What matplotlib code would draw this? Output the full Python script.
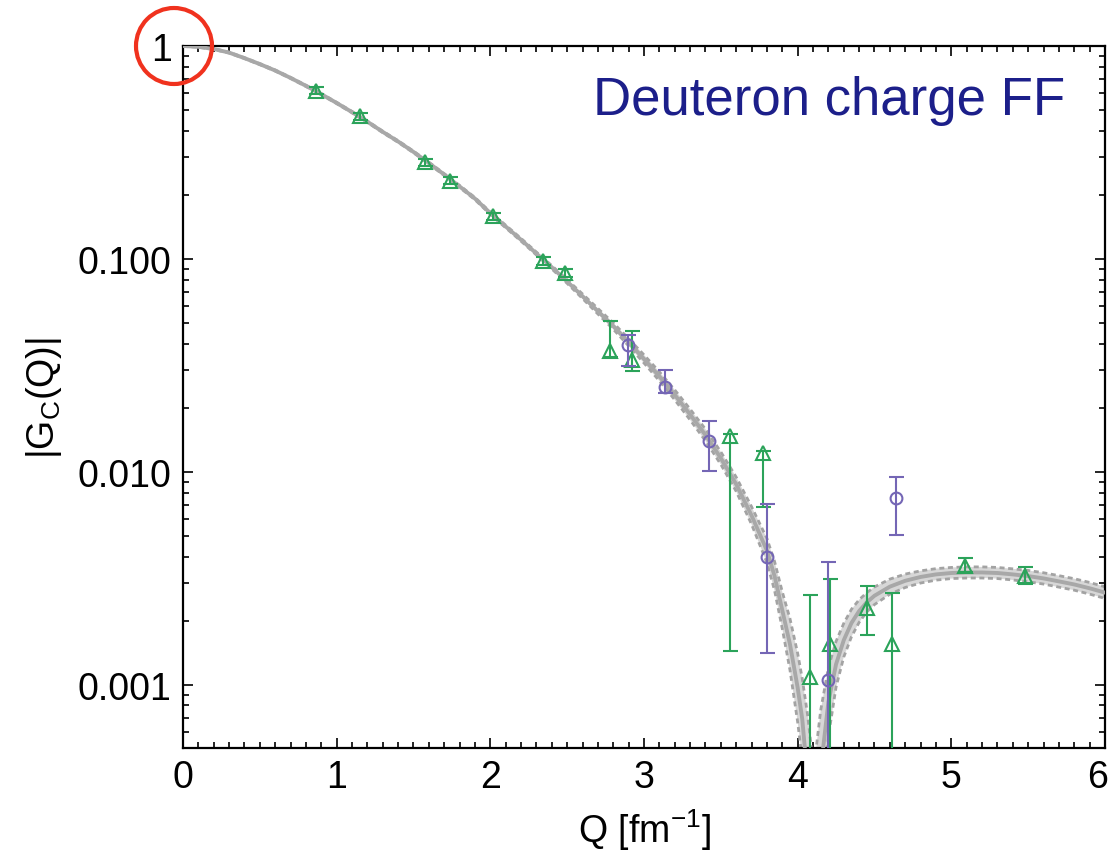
import matplotlib
matplotlib.use("Agg")
import matplotlib.pyplot as plt
from matplotlib.ticker import MultipleLocator, LogLocator, FixedLocator, FixedFormatter, NullFormatter
from matplotlib.patches import Ellipse
from matplotlib.transforms import ScaledTranslation
import numpy as np

plt.rcParams['font.family'] = ['Liberation Sans', 'DejaVu Sans']
plt.rcParams['mathtext.default'] = 'regular'

# theory curve |G_C(Q)| (sign change near Q = 4.1 fm^-1)
q_th = [0.0, 0.1, 0.2, 0.3, 0.4, 0.5, 0.6, 0.7, 0.8, 0.9, 1.0, 1.1, 1.2, 1.3, 1.4, 1.5,
        1.6, 1.7, 1.8, 1.9, 2.0, 2.1, 2.2, 2.3, 2.4, 2.5, 2.6, 2.7, 2.8, 2.9, 3.0, 3.1,
        3.2, 3.3, 3.4, 3.5, 3.6, 3.7, 3.8, 3.85, 3.9, 3.95, 4.0, 4.03, 4.065, 4.09,
        4.105,
        4.12, 4.15, 4.2, 4.25, 4.3, 4.35, 4.4, 4.45, 4.5, 4.6, 4.7, 4.8, 4.9, 5.0,
        5.1, 5.2, 5.3, 5.4, 5.5, 5.6, 5.7, 5.8, 5.9, 6.0]
g_th = [1.0, 0.991, 0.968, 0.931, 0.877, 0.822, 0.767, 0.708, 0.650, 0.594, 0.540, 0.489,
        0.441, 0.395, 0.356, 0.318, 0.282, 0.249, 0.219, 0.192, 0.164, 0.142, 0.123, 0.106,
        0.0914, 0.0783, 0.0668, 0.0568, 0.0484, 0.0406, 0.0339, 0.0281, 0.0230, 0.0186,
        0.0149, 0.0116, 0.00875, 0.00624, 0.00427, 0.00324, 0.00224, 0.00155, 0.00097,
        0.00069, 0.00036, 0.000135,
        1e-6,
        0.000135, 0.0004, 0.00083, 0.00125, 0.00162, 0.00195, 0.00222, 0.00244, 0.00262,
        0.00289, 0.00308, 0.00321, 0.0033, 0.00335, 0.00337, 0.00337, 0.00335, 0.0033,
        0.00324, 0.00316, 0.00306, 0.00296, 0.00284, 0.00271]
# relative half-width of the uncertainty band
band_rel = [0.005, 0.005, 0.005, 0.005, 0.005, 0.006, 0.006, 0.006, 0.007, 0.007, 0.007,
            0.008, 0.008, 0.008, 0.009, 0.009, 0.01, 0.01, 0.011, 0.012, 0.013, 0.014, 0.015,
            0.016, 0.018, 0.02, 0.025, 0.03, 0.035, 0.04, 0.045, 0.05, 0.055, 0.06, 0.065,
            0.07, 0.08, 0.1, 0.14, 0.17, 0.22, 0.32, 0.45, 0.55, 1.0, 2.7,
            359.0,
            2.7, 0.9, 0.45, 0.28, 0.2, 0.16, 0.13, 0.11, 0.1, 0.085, 0.075, 0.068, 0.064,
            0.062, 0.062, 0.062, 0.062, 0.062, 0.063, 0.063, 0.064, 0.064, 0.065, 0.065]
g_hi = [g * (1 + r) for g, r in zip(g_th, band_rel)]
g_lo = [g / (1 + r) for g, r in zip(g_th, band_rel)]

# data set 1 (triangles)
q_tri = [0.865, 1.15, 1.575, 1.737, 2.019, 2.344, 2.485, 2.78, 2.921, 3.559, 3.774,
         4.079, 4.21, 4.45, 4.613, 5.092, 5.478]
g_tri = [0.617, 0.468, 0.284, 0.233, 0.159, 0.098, 0.0859, 0.037, 0.0336, 0.0148, 0.0122,
         0.00109, 0.00156, 0.0023, 0.00156, 0.00363, 0.00325]
err_tri_up = [0.025, 0.019, 0.011, 0.009, 0.006, 0.004, 0.0035, 0.0142, 0.0123, 0.0003, 0.0003,
              0.00156, 0.00159, 0.00062, 0.00114, 0.00032, 0.00033]
err_tri_dn = [0.025, 0.019, 0.011, 0.009, 0.006, 0.004, 0.0035, 0.0025, 0.0038, 0.01336, 0.00535,
              0.00108, 0.00155, 0.00058, 0.00155, 0.00024, 0.00027]

# data set 2 (circles)
q_circ = [2.895, 3.136, 3.42, 3.80, 4.199, 4.64]
g_circ = [0.0395, 0.0251, 0.014, 0.00399, 0.00105, 0.0075]
err_circ_up = [0.0045, 0.005, 0.0034, 0.00309, 0.00273, 0.00198]
err_circ_dn = [0.008, 0.0016, 0.0039, 0.00258, 0.00104, 0.00244]

green = '#2ba35a'
purple = '#7466b5'

fig = plt.figure(figsize=(11.13, 8.62), dpi=100)
ax = fig.add_axes([0.1644, 0.1311, 0.8284, 0.8144])

ax.fill_between(q_th, g_lo, g_hi, color='#d7d7d7', lw=0, zorder=1)
ax.plot(q_th, g_hi, color='#a3a3a3', lw=2.0, ls=(0, (1.8, 1.3)), zorder=2)
ax.plot(q_th, g_lo, color='#a3a3a3', lw=2.0, ls=(0, (1.8, 1.3)), zorder=2)
ax.plot(q_th, g_th, color='#a8a8a8', lw=2.8, zorder=3)

ax.errorbar(q_tri, g_tri, yerr=[err_tri_dn, err_tri_up], fmt='^', color=green,
            mfc='none', mec=green, ms=10, mew=1.5, elinewidth=1.5, capsize=5.4,
            capthick=1.5, zorder=4)
ax.errorbar(q_circ, g_circ, yerr=[err_circ_dn, err_circ_up], fmt='o', color=purple,
            mfc='none', mec=purple, ms=8.5, mew=1.5, elinewidth=1.5, capsize=5.4,
            capthick=1.5, zorder=5)

ax.set_yscale('log')
ax.set_xlim(0, 6)
ax.set_ylim(0.000505, 1)

ax.xaxis.set_major_locator(FixedLocator([0, 1, 2, 3, 4, 5, 6]))
ax.xaxis.set_minor_locator(MultipleLocator(0.1))
ax.yaxis.set_major_locator(FixedLocator([0.001, 0.01, 0.1, 1]))
ax.yaxis.set_major_formatter(FixedFormatter(['0.001', '0.010', '0.100', '1']))
ax.yaxis.set_minor_locator(LogLocator(base=10, subs=np.arange(2, 10)))
ax.yaxis.set_minor_formatter(NullFormatter())

ax.tick_params(which='both', direction='in', top=True, right=True, width=1.2,
               labelsize=27, colors='black')
ax.tick_params(which='major', length=7, pad=8)
ax.tick_params(which='minor', length=4)
for s in ax.spines.values():
    s.set_linewidth(1.6)

ax.set_xlabel('Q [fm$^{-1}$]', fontsize=27, labelpad=8)
ax.set_ylabel('|G$_C$(Q)|', fontsize=27, labelpad=10)

ax.text(0.957, 0.903, 'Deuteron charge FF', transform=ax.transAxes, ha='right',
        va='baseline', fontsize=38, color='#1c1f8a')

# highlight the normalisation at Q = 0
fig.add_artist(Ellipse((174 / 1113, 1 - 47 / 862), 76 / 1113, 76 / 862,
                       transform=fig.transFigure, fill=False, ec='#f0321e', lw=3,
                       clip_on=False, zorder=10))

# keep the last x label inside the figure
fig.canvas.draw()
last = ax.xaxis.get_major_ticks()[-1].label1
last.set_transform(last.get_transform() + ScaledTranslation(-0.07, 0, fig.dpi_scale_trans))

fig.savefig('out.png', dpi=100)
